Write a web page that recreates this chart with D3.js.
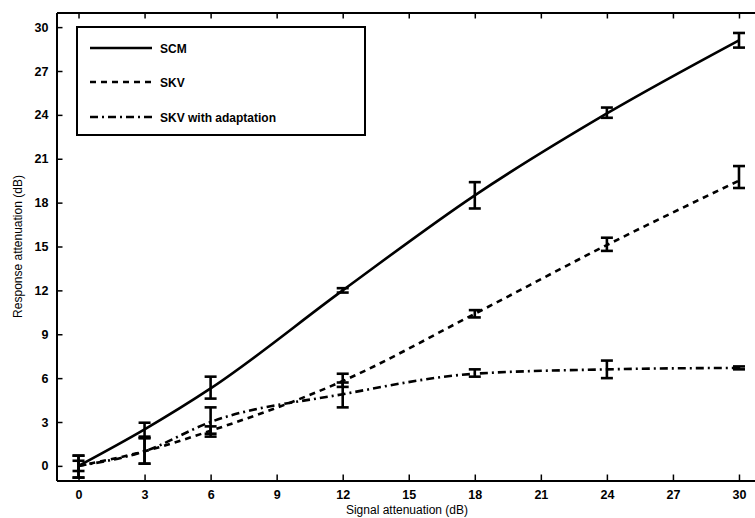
<!DOCTYPE html>
<html>
<head>
<meta charset="utf-8">
<script src="https://cdn.jsdelivr.net/npm/d3@7"></script>
<style>
  body { margin: 0; background: #fff; }
  svg { display: block; }
</style>
</head>
<body>
<svg id="chart" width="755" height="518"></svg>
<script>
// signal attenuation (dB) where the points were measured
const xs = [0, 3, 6, 12, 18, 24, 30];

// response attenuation (dB): value, low end, high end of the error bar
const scm     = [0, 2.5, 5.3, 12.0, 18.5, 24.1, 29.1];
const scmLo   = [-0.8, 2.0, 4.6, 11.85, 17.6, 23.8, 28.6];
const scmHi   = [0.7, 2.95, 6.1, 12.15, 19.4, 24.5, 29.6];

const skv     = [0, 1.0, 2.4, 5.8, 10.4, 15.1, 19.5];
const skvLo   = [-0.35, 0.15, 2.0, 5.4, 10.15, 14.7, 19.0];
const skvHi   = [0.35, 1.9, 2.7, 6.3, 10.65, 15.6, 20.5];

const adapt   = [0, 1.0, 3.0, 4.9, 6.3, 6.6, 6.7];
const adaptLo = [-0.8, 0.15, 2.2, 4.0, 6.1, 6.0, 6.6];
const adaptHi = [0.7, 1.9, 4.0, 5.7, 6.6, 7.2, 6.8];

const xTicks = [0, 3, 6, 9, 12, 15, 18, 21, 24, 27, 30];
const yTicks = [0, 3, 6, 9, 12, 15, 18, 21, 24, 27, 30];

const seriesNames = ["SCM", "SKV", "SKV with adaptation"];
const dashes = [null, "6,5", "8,4,2,4"];

const svg = d3.select("#chart");

const x = d3.scaleLinear().domain([-1, 31]).range([56.5, 761]);
const y = d3.scaleLinear().domain([-1, 31]).range([480.5, 12.5]);

const fontBold = "'Liberation Sans', Arial, sans-serif";

// axes box with inward ticks on all four sides
const tick = 6;
svg.append("g")
  .attr("transform", `translate(0,${y(-1)})`)
  .call(d3.axisBottom(x).tickValues(xTicks).tickSizeInner(-tick).tickSizeOuter(0).tickPadding(10))
  .call(g => g.select(".domain").attr("stroke-width", 2))
  .call(g => g.selectAll(".tick line").attr("stroke-width", 1.5))
  .call(g => g.selectAll("text").attr("font-family", fontBold).attr("font-weight", "bold").attr("font-size", 12.5));

svg.append("g")
  .attr("transform", `translate(0,${y(31)})`)
  .call(d3.axisTop(x).tickValues(xTicks).tickSizeInner(-tick).tickSizeOuter(0).tickFormat(""))
  .call(g => g.select(".domain").attr("stroke-width", 2))
  .call(g => g.selectAll(".tick line").attr("stroke-width", 1.5));

svg.append("g")
  .attr("transform", `translate(${x(-1)},0)`)
  .call(d3.axisLeft(y).tickValues(yTicks).tickSizeInner(-tick).tickSizeOuter(0).tickPadding(8))
  .call(g => g.select(".domain").attr("stroke-width", 2))
  .call(g => g.selectAll(".tick line").attr("stroke-width", 1.5))
  .call(g => g.selectAll("text").attr("font-family", fontBold).attr("font-weight", "bold").attr("font-size", 12.5));

svg.append("g")
  .attr("transform", `translate(${x(31)},0)`)
  .call(d3.axisRight(y).tickValues(yTicks).tickSizeInner(-tick).tickSizeOuter(0).tickFormat(""))
  .call(g => g.select(".domain").attr("stroke-width", 2))
  .call(g => g.selectAll(".tick line").attr("stroke-width", 1.5));

// axis labels
svg.append("text")
  .attr("x", 407)
  .attr("y", 514)
  .attr("text-anchor", "middle")
  .attr("font-family", fontBold)
  .attr("font-size", 12)
  .text("Signal attenuation (dB)");

svg.append("text")
  .attr("transform", `translate(22,${y(15)}) rotate(-90)`)
  .attr("text-anchor", "middle")
  .attr("font-family", fontBold)
  .attr("font-size", 12)
  .text("Response attenuation (dB)");

// series
const series = [
  { vals: scm, lo: scmLo, hi: scmHi },
  { vals: skv, lo: skvLo, hi: skvHi },
  { vals: adapt, lo: adaptLo, hi: adaptHi }
];

const line = d3.line().x(d => x(d[0])).y(d => y(d[1])).curve(d3.curveMonotoneX);
const capW = 6;

series.forEach((s, i) => {
  const pts = xs.map((v, j) => [v, s.vals[j]]);
  svg.append("path")
    .attr("d", line(pts))
    .attr("fill", "none")
    .attr("stroke", "#000")
    .attr("stroke-width", 2.6)
    .attr("stroke-dasharray", dashes[i]);

  const eb = svg.append("g").attr("stroke", "#000").attr("stroke-width", 2.6);
  xs.forEach((v, j) => {
    const cx = x(v);
    eb.append("line").attr("x1", cx).attr("x2", cx).attr("y1", y(s.lo[j])).attr("y2", y(s.hi[j]));
    eb.append("line").attr("x1", cx - capW).attr("x2", cx + capW).attr("y1", y(s.lo[j])).attr("y2", y(s.lo[j]));
    eb.append("line").attr("x1", cx - capW).attr("x2", cx + capW).attr("y1", y(s.hi[j])).attr("y2", y(s.hi[j]));
  });
});

// legend
const legend = svg.append("g");
legend.append("rect")
  .attr("x", 77).attr("y", 27).attr("width", 288).attr("height", 108)
  .attr("fill", "#fff").attr("stroke", "#000").attr("stroke-width", 2);

const legendY = [48, 82, 117];
seriesNames.forEach((name, i) => {
  legend.append("line")
    .attr("x1", 90).attr("x2", 152)
    .attr("y1", legendY[i]).attr("y2", legendY[i])
    .attr("stroke", "#000").attr("stroke-width", 2.6)
    .attr("stroke-dasharray", dashes[i]);
  legend.append("text")
    .attr("x", 160).attr("y", legendY[i] + 4.5)
    .attr("font-family", fontBold).attr("font-weight", "bold").attr("font-size", 12)
    .text(name);
});
</script>
</body>
</html>
